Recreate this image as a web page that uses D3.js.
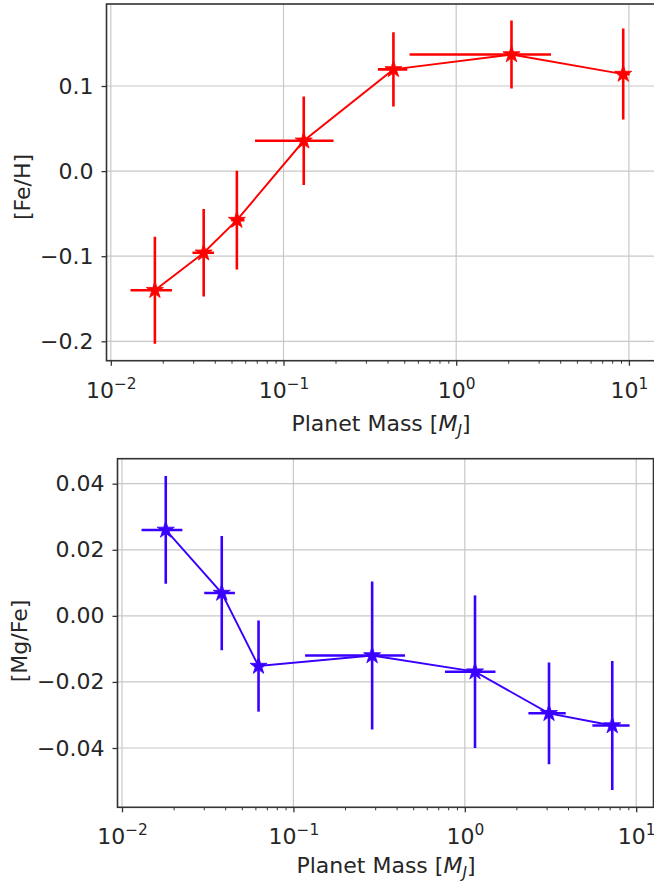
<!DOCTYPE html>
<html>
<head>
<meta charset="utf-8">
<script src="https://cdn.jsdelivr.net/npm/d3@7"></script>
<style>
  html, body { margin: 0; padding: 0; background: #fff; }
  svg { display: block; }
  text { font-family: "DejaVu Sans", sans-serif; fill: #262626; }
</style>
</head>
<body>
<svg id="chart" width="654" height="884"></svg>
<script>
// ---------------- DATA ----------------
// Panel 1: [Fe/H] vs planet mass
const fehMass    = [0.0180, 0.0345, 0.0537, 0.131, 0.433, 2.09, 9.27];
const fehMassLo  = [0.0130, 0.0297, 0.0498, 0.0684, 0.352, 0.537, 8.60];
const fehMassHi  = [0.0226, 0.0396, 0.0594, 0.195, 0.521, 3.54, 10.1];
const fehValue   = [-0.140, -0.096, -0.0576, 0.0356, 0.1195, 0.137, 0.114];
const fehErr     = [0.063, 0.0515, 0.058, 0.052, 0.0437, 0.040, 0.0535];
const fehYTicks  = [-0.2, -0.1, 0.0, 0.1];
const fehYLabels = ["\u22120.2", "\u22120.1", "0.0", "0.1"];

// Panel 2: [Mg/Fe] vs planet mass
const mgMass     = [0.0180, 0.0382, 0.0626, 0.288, 1.147, 3.10, 7.25];
const mgMassLo   = [0.0130, 0.0302, 0.0588, 0.117, 0.766, 2.35, 5.55];
const mgMassHi   = [0.0225, 0.0456, 0.0670, 0.448, 1.51, 3.88, 9.15];
const mgValue    = [0.0260, 0.0069, -0.0152, -0.0120, -0.0169, -0.0295, -0.0332];
const mgErr      = [0.0163, 0.0173, 0.0138, 0.0224, 0.0231, 0.0154, 0.0195];
const mgYTicks   = [-0.04, -0.02, 0.00, 0.02, 0.04];
const mgYLabels  = ["\u22120.04", "\u22120.02", "0.00", "0.02", "0.04"];

// x axis (log) ticks
const xTicks     = [0.01, 0.1, 1, 10];
const xTickExp   = ["\u22122", "\u22121", "0", "1"];
const xMinor     = [];
[0.01, 0.1, 1].forEach(b => { for (let k = 2; k <= 9; k++) xMinor.push(+(b * k).toPrecision(3)); });

// ---------------- DRAWING ----------------
const svg = d3.select("#chart");
const FONT = 22;

function starPath(R) {
  const r = R * 0.381966;
  const pts = [];
  for (let i = 0; i < 10; i++) {
    const a = -Math.PI / 2 + i * Math.PI / 5;
    const rad = i % 2 === 0 ? R : r;
    pts.push([rad * Math.cos(a), rad * Math.sin(a)]);
  }
  return "M" + pts.map(p => p[0].toFixed(2) + "," + p[1].toFixed(2)).join("L") + "Z";
}

function panel(cfg, id) {
  const f = cfg.frame;
  const x = d3.scaleLog().domain([0.01, 10]).range(cfg.xRange);
  const y = d3.scaleLinear().domain([cfg.yTicks[0], cfg.yTicks[cfg.yTicks.length - 1]]).range(cfg.yRange);

  const g = svg.append("g");

  g.append("clipPath").attr("id", "clip" + id)
    .append("rect").attr("x", f.l).attr("y", f.t).attr("width", f.r - f.l).attr("height", f.b - f.t);

  // grid
  const grid = g.append("g").attr("clip-path", `url(#clip${id})`);
  grid.selectAll("line.gx").data(xTicks).join("line")
    .attr("x1", d => x(d)).attr("x2", d => x(d)).attr("y1", f.t).attr("y2", f.b)
    .attr("stroke", "#c8c8c8").attr("stroke-width", 1.2);
  grid.selectAll("line.gy").data(cfg.yTicks).join("line")
    .attr("x1", f.l).attr("x2", f.r).attr("y1", d => y(d)).attr("y2", d => y(d))
    .attr("stroke", "#c8c8c8").attr("stroke-width", 1.2);

  // data
  const data = cfg.mass.map((m, i) => ({ m, lo: cfg.lo[i], hi: cfg.hi[i], v: cfg.val[i], e: cfg.err[i] }));
  const plot = g.append("g").attr("clip-path", `url(#clip${id})`);
  plot.append("path").datum(data)
    .attr("d", d3.line().x(d => x(d.m)).y(d => y(d.v)))
    .attr("fill", "none").attr("stroke", cfg.color).attr("stroke-width", 1.9);
  plot.selectAll("line.ey").data(data).join("line")
    .attr("x1", d => x(d.m)).attr("x2", d => x(d.m))
    .attr("y1", d => y(d.v - d.e)).attr("y2", d => y(d.v + d.e))
    .attr("stroke", cfg.color).attr("stroke-width", 2.6);
  plot.selectAll("line.ex").data(data).join("line")
    .attr("x1", d => x(d.lo)).attr("x2", d => x(d.hi))
    .attr("y1", d => y(d.v)).attr("y2", d => y(d.v))
    .attr("stroke", cfg.color).attr("stroke-width", 2.6);
  plot.selectAll("path.star").data(data).join("path")
    .attr("transform", d => `translate(${x(d.m)},${y(d.v)})`)
    .attr("d", starPath(9)).attr("fill", cfg.color).attr("stroke", cfg.color).attr("stroke-width", 0.8);

  // x axis
  const xa = g.append("g").attr("transform", `translate(0,${f.b})`)
    .call(d3.axisBottom(x).tickValues(xTicks).tickSize(5).tickPadding(6).tickFormat(""));
  xa.select(".domain").remove();
  xa.selectAll(".tick line").attr("stroke", "#333").attr("stroke-width", 1.3);
  xa.selectAll(".tick text").remove();
  xa.selectAll(".tick").append("text")
    .attr("y", 37).attr("text-anchor", "middle").attr("font-size", FONT)
    .each(function (d, i) {
      const t = d3.select(this);
      t.append("tspan").text("10");
      t.append("tspan").attr("font-size", FONT * 0.7).attr("dy", -9).text(xTickExp[i]);
    });
  const xm = g.append("g").attr("transform", `translate(0,${f.b})`)
    .call(d3.axisBottom(x).tickValues(xMinor).tickSize(3).tickFormat(""));
  xm.select(".domain").remove();
  xm.selectAll(".tick line").attr("stroke", "#333").attr("stroke-width", 1);

  // y axis
  const ya = g.append("g").attr("transform", `translate(${f.l},0)`)
    .call(d3.axisLeft(y).tickValues(cfg.yTicks).tickSize(5).tickPadding(8)
      .tickFormat((d, i) => cfg.yLabels[i]));
  ya.select(".domain").remove();
  ya.selectAll(".tick line").attr("stroke", "#333").attr("stroke-width", 1.3);
  ya.selectAll(".tick text").attr("font-size", FONT).attr("font-family", "DejaVu Sans").attr("fill", "#262626");

  // frame
  g.append("rect").attr("x", f.l).attr("y", f.t).attr("width", f.r - f.l).attr("height", f.b - f.t)
    .attr("fill", "none").attr("stroke", "#333").attr("stroke-width", 1.6);

  // labels
  const xl = g.append("text").attr("x", cfg.xLabelX).attr("y", f.b + 66 + cfg.xLabelDy)
    .attr("text-anchor", "middle").attr("font-size", FONT);
  xl.append("tspan").text("Planet Mass [");
  xl.append("tspan").attr("font-style", "italic").text("M");
  xl.append("tspan").attr("font-size", FONT * 0.7).attr("dy", 5).attr("font-style", "italic").text("J");
  xl.append("tspan").attr("dy", -5).text("]");

  g.append("text").attr("transform", `translate(${cfg.yLabelX},${cfg.yLabelY}) rotate(-90)`)
    .attr("text-anchor", "middle").attr("dominant-baseline", "central").attr("font-size", FONT)
    .text(cfg.yTitle);
}

panel({
  frame: { l: 106.5, r: 656, t: 4, b: 360.7 },
  xRange: [110.8, 628.9],
  yRange: [341.3, 86.0],
  yTicks: fehYTicks, yLabels: fehYLabels,
  mass: fehMass, lo: fehMassLo, hi: fehMassHi, val: fehValue, err: fehErr,
  color: "#ff0000",
  yTitle: "[Fe/H]", yLabelX: 22, yLabelY: 187,
  xLabelX: 381, xLabelDy: 4
}, 1);

panel({
  frame: { l: 117.5, r: 653.5, t: 458.7, b: 807.3 },
  xRange: [122, 636.2],
  yRange: [748, 483.7],
  yTicks: mgYTicks, yLabels: mgYLabels,
  mass: mgMass, lo: mgMassLo, hi: mgMassHi, val: mgValue, err: mgErr,
  color: "#3a00ff",
  yTitle: "[Mg/Fe]", yLabelX: 19, yLabelY: 641,
  xLabelX: 386, xLabelDy: 0
}, 2);
</script>
</body>
</html>
